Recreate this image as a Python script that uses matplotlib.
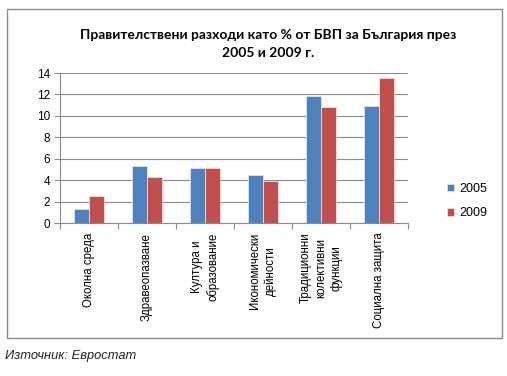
import numpy as np
import matplotlib.pyplot as plt
from matplotlib.patches import Rectangle

categories = ['Околна среда', 'Здравеопазване', 'Култура и\nобразование',
              'Икономически\nдейности', 'Традиционни\nколективни\nфункции',
              'Социална защита']
years = ['2005', '2009']
values_2005 = [1.3, 5.3, 5.1, 4.5, 11.9, 10.9]
values_2009 = [2.5, 4.3, 5.1, 3.9, 10.8, 13.5]
yticks = [0, 2, 4, 6, 8, 10, 12, 14]

blue = '#4F81BD'
red = '#C0504D'
fam = ['Liberation Sans', 'DejaVu Sans']

fig = plt.figure(figsize=(5.07, 3.76), dpi=100)
W, H = 507, 376

# outer frame of the chart
fig.patches.append(Rectangle((7 / W, 1 - 338 / H), 495 / W, 329 / H,
                             transform=fig.transFigure, fill=False,
                             edgecolor='#8c8c8c', linewidth=1.0))

ax = fig.add_axes([60 / W, 1 - 223 / H, 348 / W, 150 / H])

x = np.arange(len(categories))
w = 0.26
off = 0.135
ax.bar(x - off, values_2005, w, color=blue, edgecolor='#dbe5f1',
       linewidth=0.6, label=years[0], zorder=3)
ax.bar(x + off, values_2009, w, color=red, edgecolor='#f2dcdb',
       linewidth=0.6, label=years[1], zorder=3)

ax.set_xlim(-0.5, len(categories) - 0.5)
ax.set_ylim(0, 14)
ax.set_yticks(yticks)
ax.yaxis.grid(True, color='#8c8c8c', linewidth=0.8, zorder=0)
ax.set_axisbelow(True)
for s in ['top', 'right']:
    ax.spines[s].set_visible(False)
ax.spines['left'].set_color('#8c8c8c')
ax.spines['bottom'].set_color('#8c8c8c')
ax.tick_params(axis='y', labelsize=8.5, length=4, color='#8c8c8c', pad=3)
for t in ax.get_yticklabels():
    t.set_family(fam)

ax.set_xticks(np.arange(len(categories) + 1) - 0.5)
ax.set_xticklabels([])
ax.tick_params(axis='x', length=4, color='#8c8c8c')
for i, c in enumerate(categories):
    ax.text(i, -0.065, c, transform=ax.get_xaxis_transform(), rotation=90,
            ha='center', va='top', multialignment='center', fontsize=8.3,
            linespacing=1.35, family=fam)

ax.legend(loc='center left', bbox_to_anchor=(1.08, 0.145), frameon=False,
          handlelength=0.55, handleheight=0.55, handletextpad=0.4,
          labelspacing=1.0, prop={'family': fam, 'size': 9})

fig.text(268 / W, 1 - 44 / H,
         'Правителствени разходи като % от БВП за България през\n2005 и 2009 г.',
         ha='center', va='center', fontsize=10, fontweight='bold',
         linespacing=1.55, family=['Lato', 'DejaVu Sans'])

fig.text(5 / W, 1 - 356 / H, 'Източник: Евростат', ha='left', va='center',
         fontsize=9.3, style='italic', color='#222222', family=fam)

fig.savefig('out.png', dpi=100)
